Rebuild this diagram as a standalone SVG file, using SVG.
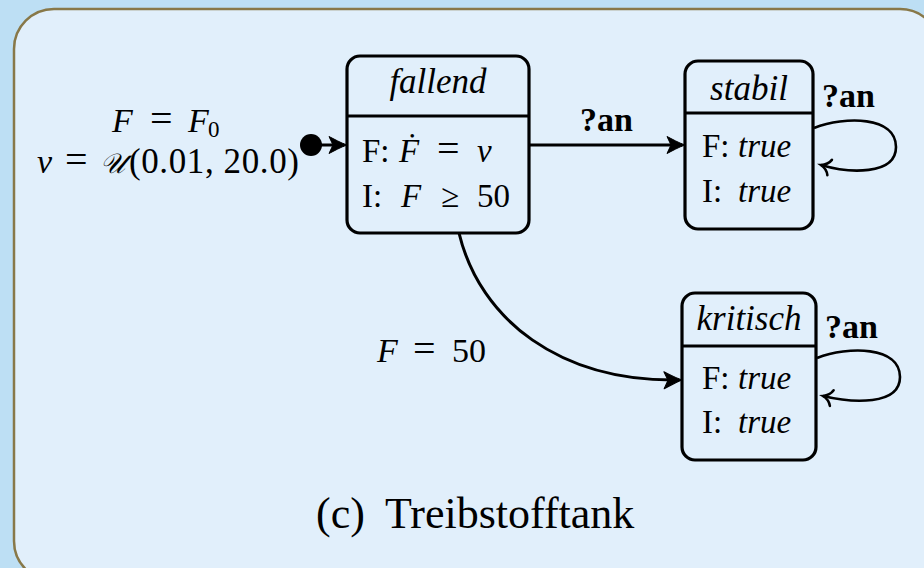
<svg xmlns="http://www.w3.org/2000/svg" width="924" height="568" viewBox="0 0 924 568">
  <defs>
    <style>
      .bg { fill: #bddff4; }
      .panel { fill: #e1effb; stroke: #887848; stroke-width: 2.5; }
      .box { fill: none; stroke: #000; stroke-width: 3.2; }
      .div { stroke: #000; stroke-width: 3.2; }
      .edge { fill: none; stroke: #000; stroke-width: 3; }
      .loop { fill: none; stroke: #000; stroke-width: 2.6; }
      .t { font-family: 'Liberation Serif', serif; fill: #000; }
      .title { font-size: 35px; font-style: italic; text-anchor: middle; }
      .body { font-size: 33px; }
      .it { font-style: italic; }
      .math { font-size: 34px; }
      .eq { font-size: 40px; }
      .lbl { font-size: 34px; font-weight: bold; }
      .cap { font-size: 44px; }
    </style>
    <marker id="stealth" markerUnits="userSpaceOnUse" viewBox="-22 -10 26 20" refX="-3" refY="0" markerWidth="26" markerHeight="20" orient="auto" overflow="visible">
      <path d="M0,0 C-6,-2 -13,-6 -18,-8.5 L-14,0 L-18,8.5 C-13,6 -6,2 0,0 Z" fill="#000" stroke="#000" stroke-width="1" stroke-linejoin="round"/>
    </marker>
    <marker id="barb" markerUnits="userSpaceOnUse" viewBox="-14 -10 16 20" refX="0" refY="0" markerWidth="16" markerHeight="20" orient="auto" overflow="visible">
      <path d="M-9,-8 C-7,-3 -3,-1 0,0 C-3,1 -7,3 -9,8" fill="none" stroke="#000" stroke-width="2.6" stroke-linecap="round"/>
    </marker>
  </defs>

  <rect class="bg" x="0" y="0" width="924" height="568"/>
  <rect class="panel" x="14" y="9" width="926" height="572" rx="40" ry="40"/>

  <g id="initial-label">
    <text class="t math" y="132"><tspan class="it" x="112">F</tspan><tspan class="eq" x="150">=</tspan><tspan class="it" x="188">F</tspan><tspan x="208" dy="5" font-size="23">0</tspan></text>
    <text class="t math" y="173"><tspan class="it" x="37">v</tspan><tspan class="eq" x="65">=</tspan><tspan x="100" font-style="italic" font-size="28">𝒰</tspan><tspan x="129" font-size="35" letter-spacing="0.6">(0.01, 20.0)</tspan></text>
  </g>

  <g id="connectors">
    <circle cx="311" cy="145" r="11" fill="#000"/>
    <line class="edge" x1="318" y1="145" x2="344" y2="145" marker-end="url(#stealth)"/>
    <line class="edge" x1="529" y1="145" x2="682" y2="145" marker-end="url(#stealth)"/>
    <path class="edge" d="M459,233 C480,320 560,382 679,380" marker-end="url(#stealth)"/>
    <path class="loop" d="M814,128 C845,116 896,116 896,147 C896,176 848,173 821,165" marker-end="url(#barb)"/>
    <path class="loop" d="M817,358 C848,346 900,346 900,377 C900,406 852,403 823,396" marker-end="url(#barb)"/>
    <text class="t lbl" x="580" y="131">?an</text>
    <text class="t lbl" x="822" y="107">?an</text>
    <text class="t lbl" x="825" y="338">?an</text>
    <text class="t math" y="362"><tspan class="it" x="377">F</tspan><tspan class="eq" x="413">=</tspan><tspan x="452">50</tspan></text>
  </g>

  <g id="fallend">
    <rect class="box" x="347" y="56" width="182" height="177" rx="13" ry="13"/>
    <line class="div" x1="347" y1="116" x2="529" y2="116"/>
    <text class="t title" x="438" y="93">fallend</text>
    <text class="t body" y="162"><tspan x="362">F:</tspan><tspan class="it" x="399">Ḟ</tspan><tspan class="eq" x="437">=</tspan><tspan class="it" x="477">v</tspan></text>
    <text class="t body" y="207"><tspan x="362">I:</tspan><tspan class="it" x="401">F</tspan><tspan x="441">≥</tspan><tspan x="477">50</tspan></text>
  </g>

  <g id="stabil">
    <rect class="box" x="685" y="61" width="128" height="168" rx="13" ry="13"/>
    <line class="div" x1="685" y1="113" x2="813" y2="113"/>
    <text class="t title" x="749" y="100">stabil</text>
    <text class="t body" y="157"><tspan x="702">F:</tspan><tspan class="it" x="738">true</tspan></text>
    <text class="t body" y="202"><tspan x="702">I:</tspan><tspan class="it" x="738">true</tspan></text>
  </g>

  <g id="kritisch">
    <rect class="box" x="682" y="293" width="134" height="167" rx="13" ry="13"/>
    <line class="div" x1="682" y1="346" x2="816" y2="346"/>
    <text class="t title" x="749" y="330">kritisch</text>
    <text class="t body" y="389"><tspan x="702">F:</tspan><tspan class="it" x="738">true</tspan></text>
    <text class="t body" y="433"><tspan x="702">I:</tspan><tspan class="it" x="738">true</tspan></text>
  </g>

  <g id="caption">
    <text class="t cap" x="316" y="528">(c)</text>
    <text class="t cap" x="385" y="528">Treibstofftank</text>
  </g>
</svg>
